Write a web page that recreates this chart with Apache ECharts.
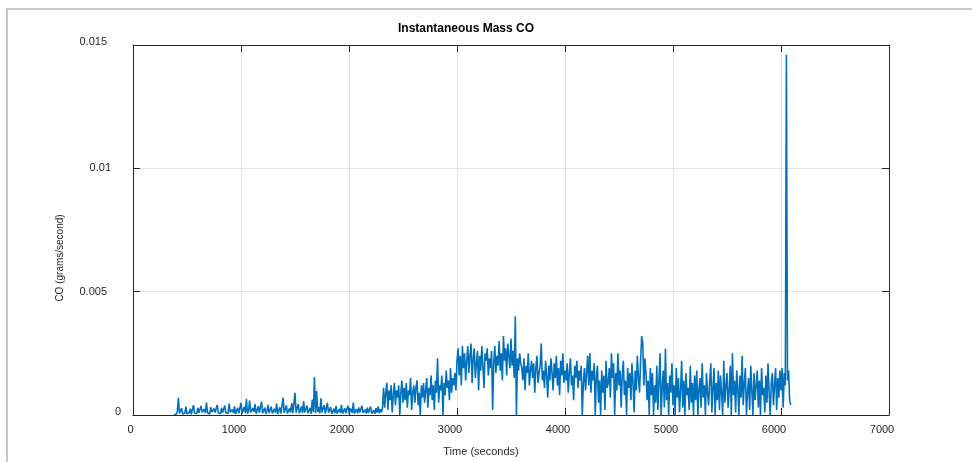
<!DOCTYPE html>
<html>
<head>
<meta charset="utf-8">
<script src="https://cdn.jsdelivr.net/npm/echarts@6/dist/echarts.min.js"></script>
<style>html,body{margin:0;padding:0;background:#fff}#c{width:972px;height:462px}</style>
</head>
<body>
<div id="c"></div>
<script>
// Sampling grid of the trace (seconds)
const T_START = 380;
const T_STEP = 10;
// Values in units of 1e-4 grams/second, in time order
const VALUE_UNIT = 1e-4;
const segIdle = [ // 380 - 2310 s
  0.2,0.5,0.3,1.2,7.0,0.6,1.0,2.8,0.4,1.1,
  0.8,3.4,0.5,1.3,0.9,2.6,0.3,1.0,4.0,0.7,
  1.4,0.6,2.9,0.9,0.4,3.7,1.1,0.5,2.4,0.8,
  5.0,0.9,1.5,0.4,3.2,1.2,0.6,2.7,1.0,0.3,
  4.1,0.8,1.3,0.5,2.9,1.0,0.4,3.8,0.9,1.4,
  0.6,4.6,1.1,0.5,2.2,0.8,3.5,0.4,1.2,2.9,
  0.7,1.5,4.9,0.6,1.1,3.3,0.8,6.5,0.5,1.6,
  5.9,1.0,0.6,2.8,1.3,4.4,0.5,1.1,3.6,0.9,
  1.4,5.4,0.7,1.2,3.0,0.5,1.5,4.1,0.8,1.0,
  3.4,0.6,1.3,2.5,0.9,4.6,0.4,1.2,3.1,0.7,
  1.1,7.0,0.8,1.6,3.9,0.6,1.3,2.7,1.0,4.8,
  0.7,1.4,9.0,0.9,1.5,4.5,0.6,1.2,3.4,0.8,
  5.6,1.0,1.6,3.9,0.7,1.4,2.9,0.5,6.3,1.1,
  15.4,0.8,9.7,1.2,3.3,0.7,6.8,1.0,1.5,4.0,
  0.6,1.3,4.9,0.9,1.2,3.2,0.5,1.4,2.6,0.8,
  3.7,0.6,1.1,2.4,0.9,4.1,0.5,1.3,2.8,0.7,
  1.2,3.8,0.6,1.0,2.6,0.8,5.0,0.5,1.3,2.4,
  0.7,3.1,1.0,0.5,3.8,0.9,1.2,2.2,0.6,3.0,
  0.8,1.4,3.4,0.6,1.1,2.0,0.5,2.8,1.0,3.5,
  0.7,2.3,1.1,3.0
];
const segRise = [ // 2320 - 2990 s
  11,3,9,13,2,10,6,12,1,8,
  13,4,10,7,12,0,9,14,5,11,
  6,13,3,10,8,15,2,9,12,5,
  11,14,4,9,0,12,7,13,5,10,
  15,3,11,8,16,6,12,2,14,9,
  23,5,12,10,16,0,13,8,18,11,
  14,6,19,9,15,12,17,10
];
const segPeak = [ // 3000 - 3590 s
  22,27,16,24,12,28,19,25,14,22,
  28,17,24,29,13,23,27,15,21,26,
  10,24,18,28,20,11,25,22,27,16,
  23,19,26,2,21,28,17,24,20,30,
  18,25,14,32,22,27,16,29,24,19,
  31,20,26,15,40,0,23,18,25,21
];
const segMid = [ // 3600 - 4290 s
  19,14,23,10,20,17,25,12,18,22,
  15,21,9,19,24,13,17,20,29,14,
  18,11,22,16,7,20,14,23,17,10,
  21,15,24,12,19,8,22,16,25,13,
  18,14,21,9,17,23,12,16,6,20,
  15,22,11,18,14,20,0,13,19,10,
  17,24,12,25,9,18,14,21,0,16
];
const segLate = [ // 4300 - 4790 s
  20,5,14,0,18,9,16,2,22,11,
  13,19,7,25,15,21,0,17,10,25,
  12,18,3,16,22,8,14,0,19,11,
  17,6,21,13,1,18,10,24,15,9,
  22,32,29,12,23,17,6,14,0,19
];
const segTail = [ // 4800 - 6090 s
  8,17,0,12,5,20,2,14,25,0,
  11,18,3,27,6,13,0,16,9,21,
  4,12,0,19,7,15,1,10,22,3,
  14,0,17,8,11,2,20,5,13,0,
  16,6,18,0,10,15,3,21,7,12,
  0,17,9,4,14,21,1,11,19,0,
  13,6,18,2,16,9,0,22,5,12,
  17,3,10,20,0,25,8,14,1,18,
  11,0,16,7,24,4,13,19,0,9,
  15,2,20,10,0,17,6,12,18,3,
  14,0,19,8,11,1,16,5,21,9,
  0,13,17,4,12,19,2,15,7,18,
  10,19,3,17,12,146,14,18,6,4
];
const yTickLabels = ['0', '0.005', '0.01', '0.015'];
const titleText = 'Instantaneous Mass CO';
const xName = 'Time (seconds)';
const yName = 'CO (grams/second)';

const allValues = segIdle.concat(segRise, segPeak, segMid, segLate, segTail);
const seriesData = allValues.map((v, i) => [T_START + i * T_STEP, v * VALUE_UNIT]);

const axisColor = '#262626';
const font = 'Liberation Sans, Arial, Helvetica, sans-serif';
const gridColor = '#e2e2e2';

const chart = echarts.init(document.getElementById('c'), null, {renderer: 'canvas'});
const lbl = (pad) => ({padding: pad, fontSize: 11, color: axisColor, fontFamily: font});

const option = {
  animation: false,
  backgroundColor: '#ffffff',
  grid: {left: 133, top: 45, width: 756, height: 370},
  xAxis: [
    {
      type: 'value', min: 0, max: 7000, interval: 1000, position: 'bottom',
      axisLine: {show: true, onZero: false, lineStyle: {color: axisColor, width: 1}},
      axisTick: {show: true, inside: true, length: 7, lineStyle: {color: axisColor}},
      axisLabel: {
        margin: 9, fontSize: 11, color: axisColor, fontFamily: font,
        formatter: v => v === 0 ? '{z|0}' : '{n|' + v + '}',
        rich: {z: lbl([0, 5, 0, 0]), n: lbl([0, 14, 0, 0])}
      },
      splitLine: {show: true, lineStyle: {color: gridColor, width: 1}}
    },
    {
      type: 'value', min: 0, max: 7000, interval: 1000, position: 'top',
      axisLine: {show: true, onZero: false, lineStyle: {color: axisColor, width: 1}},
      axisTick: {show: true, inside: true, length: 7, lineStyle: {color: axisColor}},
      axisLabel: {show: false}, splitLine: {show: false}
    }
  ],
  yAxis: [
    {
      type: 'value', min: 0, max: 0.015, interval: 0.005, position: 'left',
      axisLine: {show: true, onZero: false, lineStyle: {color: axisColor, width: 1}},
      axisTick: {show: true, inside: true, length: 7, lineStyle: {color: axisColor}},
      axisLabel: {
        margin: 10, fontSize: 11, color: axisColor, fontFamily: font,
        formatter: v => {
          const k = Math.round(v / 0.005);
          const t = yTickLabels[k];
          return '{s' + k + '|' + t + '}';
        },
        rich: {s0: lbl([0, 2, 6, 0]), s1: lbl([0, 16, 0, 0]), s2: lbl([0, 12, 0, 0]), s3: lbl([0, 16, 6, 0])}
      },
      splitLine: {show: true, lineStyle: {color: gridColor, width: 1}}
    },
    {
      type: 'value', min: 0, max: 0.015, interval: 0.005, position: 'right',
      axisLine: {show: true, onZero: false, lineStyle: {color: axisColor, width: 1}},
      axisTick: {show: true, inside: true, length: 7, lineStyle: {color: axisColor}},
      axisLabel: {show: false}, splitLine: {show: false}
    }
  ],
  series: [{
    type: 'line', data: seriesData, xAxisIndex: 0, yAxisIndex: 0,
    symbol: 'none', showSymbol: false, silent: true,
    lineStyle: {color: '#0072BD', width: 1.6}
  }],
  graphic: [
    {type: 'polyline', silent: true, shape: {points: [[7, 462], [7, 9], [972, 9]]},
     style: {stroke: '#c8c8c8', lineWidth: 2, fill: null}},
    {type: 'text', x: 466, y: 29, silent: true,
     style: {text: titleText, font: 'bold 12px ' + font, fill: '#000', align: 'center', verticalAlign: 'middle'}},
    {type: 'text', x: 481, y: 452, silent: true,
     style: {text: xName, font: '11px ' + font, fill: axisColor, align: 'center', verticalAlign: 'middle'}},
    {type: 'text', x: 60, y: 258, rotation: Math.PI / 2, silent: true,
     style: {text: yName, font: '10px ' + font, fill: axisColor, align: 'center', verticalAlign: 'middle'}}
  ]
};
chart.setOption(option);
</script>
</body>
</html>
